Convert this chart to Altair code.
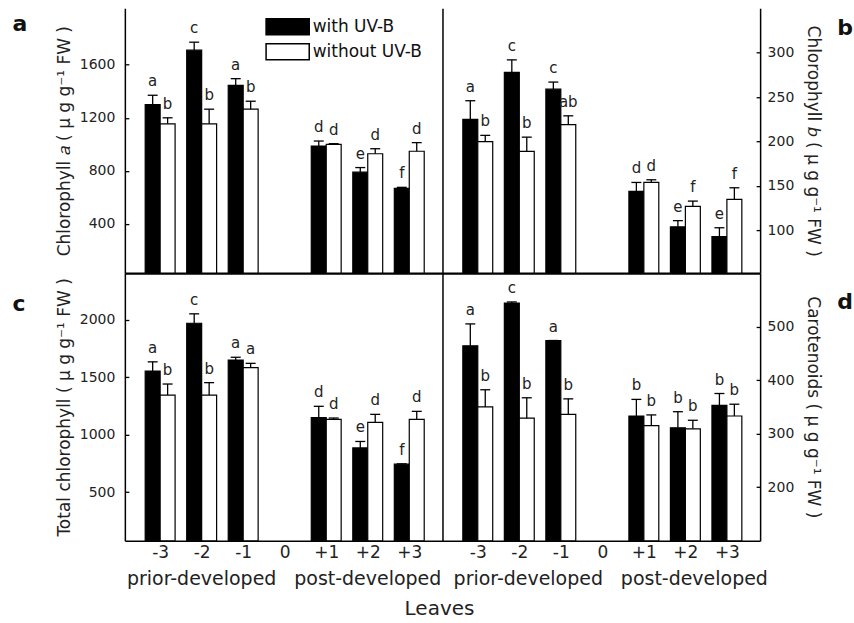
import altair as alt
import pandas as pd

FONT = "DejaVu Sans"

leaves = ["-3", "-2", "-1", "0", "+1", "+2", "+3"]
bar_leaves = ["-3", "-2", "-1", "+1", "+2", "+3"]
treatments = ["with UV-B", "without UV-B"]

# Panel a: Chlorophyll a
chla_with = [1300, 1710, 1445, 987, 790, 668]
chla_with_err = [70, 60, 50, 38, 35, 8]
chla_with_sig = ["a", "c", "a", "d", "e", "f"]
chla_without = [1155, 1155, 1265, 1000, 929, 948]
chla_without_err = [45, 110, 60, 5, 38, 65]
chla_without_sig = ["b", "b", "b", "d", "d", "d"]

# Panel b: Chlorophyll b
chlb_with = [225, 278, 259, 144, 104, 93]
chlb_with_err = [21, 14, 8, 10, 7, 10]
chlb_with_sig = ["a", "c", "c", "d", "e", "e"]
chlb_without = [200, 189, 219, 154, 127, 135]
chlb_without_err = [7, 16, 10, 3, 6, 13]
chlb_without_sig = ["b", "b", "ab", "d", "f", "f"]

# Panel c: Total chlorophyll
tot_with = [1555, 1971, 1651, 1149, 886, 744]
tot_with_err = [80, 82, 24, 99, 56, 3]
tot_with_sig = ["a", "c", "a", "d", "e", "f"]
tot_without = [1346, 1346, 1584, 1134, 1108, 1134]
tot_without_err = [96, 108, 38, 12, 70, 70]
tot_without_sig = ["b", "b", "a", "d", "d", "d"]

# Panel d: Carotenoids
car_with = [464, 544, 474, 333, 311, 353]
car_with_err = [41, 2, 0, 31, 30, 22]
car_with_sig = ["a", "c", "a", "b", "b", "b"]
car_without = [350, 329, 336, 315, 309, 333]
car_without_err = [32, 38, 29, 20, 16, 22]
car_without_sig = ["b", "b", "b", "b", "b", "b"]

group_leaves = ["-2", "+2"]
group_labels = ["prior-developed", "post-developed"]
x_title = ["Leaves"]

PW = 318          # panel width
H_TOP = 265       # top panel height
H_BOT = 268       # bottom panel height
TOTAL_W = 2 * PW
TOTAL_H = H_TOP + H_BOT
BAR = 0.36        # bar width in leaf units
CAP = 0.12        # half cap width in leaf units
X_DOMAIN = [-3.85, 3.8]


def make_df(w, we, ws, wo, woe, wos):
    rows = []
    for i, leaf in enumerate(bar_leaves):
        rows.append(dict(leaf=leaf, pos=int(leaf), trt=treatments[0], side=-1,
                         value=w[i], err=we[i], sig=ws[i]))
        rows.append(dict(leaf=leaf, pos=int(leaf), trt=treatments[1], side=0,
                         value=wo[i], err=woe[i], sig=wos[i]))
    return pd.DataFrame(rows)


fill_scale = alt.Scale(domain=treatments, range=["black", "white"])


def panel(df, domain, ticks, title, col, row, letter, letter_xy, legend=False):
    side = "left" if col == 0 else "right"
    bottom = row == 1
    xr = [0, PW] if col == 0 else [PW, TOTAL_W]
    yr = [H_TOP, 0] if row == 0 else [TOTAL_H, H_TOP]
    xscale = alt.Scale(domain=X_DOMAIN, range=xr, nice=False, zero=False)
    yscale = alt.Scale(domain=domain, range=yr, nice=False, zero=False)

    x_axis = alt.Axis(
        orient="bottom", offset=0 if bottom else -H_BOT,
        title=None, labels=bottom, values=[int(v) for v in leaves],
        labelExpr="datum.value > 0 ? '+' + datum.value : '' + datum.value",
        ticks=False, tickSize=0, grid=False,
        domain=True, domainColor="black", domainWidth=1.5 if bottom else 2.2,
        labelFontSize=17, labelColor="#222", labelPadding=4, labelAngle=0,
        labelFlush=False,
    )
    if side == "left":
        y_axis = alt.Axis(
            orient="left", values=ticks, format="d", title=title, ticks=False, tickSize=0,
            grid=False, domainColor="black", domainWidth=1.5, labelFontSize=14,
            labelColor="#222", labelPadding=10, titleFontSize=17, titleFontWeight="normal",
            titleColor="#222", titlePadding=6,
        )
    else:
        y_axis = alt.Axis(
            orient="right", values=ticks, format="d", title=title, ticks=False, tickSize=0,
            grid=False, domainColor="black", domainWidth=1.5, labelFontSize=14,
            labelColor="#222", labelPadding=7, titleFontSize=17, titleFontWeight="normal",
            titleColor="#222", titlePadding=10, titleAngle=90,
        )

    if legend:
        leg = alt.Legend(
            title=None, orient="none", legendX=150, legendY=5.5, padding=0,
            symbolType="M-1.8,-0.67H1.8V0.67H-1.8Z", symbolSize=576,
            symbolStrokeColor="black", symbolStrokeWidth=1.5, symbolOpacity=1,
            labelFontSize=17, labelColor="#111", labelOffset=12, rowPadding=0,
        )
    else:
        leg = None

    base = alt.Chart(df).transform_calculate(
        top="datum.value + datum.err",
        x0=f"datum.pos + datum.side * {BAR}",
        x1=f"datum.pos + (datum.side + 1) * {BAR}",
        xc=f"datum.pos + (datum.side + 0.5) * {BAR}",
        c0=f"datum.pos + (datum.side + 0.5) * {BAR} - {CAP}",
        c1=f"datum.pos + (datum.side + 0.5) * {BAR} + {CAP}",
    )

    bars = base.mark_bar(stroke="black", strokeWidth=1.2).encode(
        x=alt.X("x0:Q", scale=xscale, axis=None),
        x2="x1:Q",
        y=alt.Y("value:Q", scale=yscale, axis=y_axis),
        y2=alt.datum(domain[0]),
        fill=alt.Fill("trt:N", scale=fill_scale, legend=leg),
    )
    rules = base.mark_rule(color="black", strokeWidth=1.3).encode(
        x=alt.X("xc:Q", scale=xscale, axis=None),
        y=alt.Y("value:Q", scale=yscale, axis=None),
        y2="top:Q",
    )
    caps = base.mark_rule(color="black", strokeWidth=1.3).encode(
        x=alt.X("c0:Q", scale=xscale, axis=None),
        x2="c1:Q",
        y=alt.Y("top:Q", scale=yscale, axis=None),
    )
    sigs = base.mark_text(fontSize=15, color="#222", baseline="alphabetic", dy=-9).encode(
        x=alt.X("xc:Q", scale=xscale, axis=None),
        y=alt.Y("top:Q", scale=yscale, axis=None),
        text="sig:N",
    )
    # invisible layer carrying the x axis
    x_axis_layer = base.mark_point(opacity=0).encode(
        x=alt.X("xc:Q", scale=xscale, axis=x_axis),
        y=alt.Y("value:Q", scale=yscale, axis=None),
    )
    # invisible layer carrying inward y ticks
    tick_axis = base.mark_point(opacity=0).encode(
        x=alt.X("xc:Q", scale=xscale, axis=None),
        y=alt.Y("value:Q", scale=yscale, axis=alt.Axis(
            orient=side, values=ticks, offset=-4, tickSize=4, tickWidth=1.3,
            tickColor="black", domain=False, labels=False, grid=False, title=None)),
    )
    layers = [bars, rules, caps, sigs, x_axis_layer, tick_axis]
    if side == "right":
        divider = base.mark_point(opacity=0).encode(
            x=alt.X("xc:Q", scale=xscale, axis=None),
            y=alt.Y("value:Q", scale=yscale, axis=alt.Axis(
                orient="left", offset=-PW, domain=True, domainColor="black",
                domainWidth=1.5, ticks=False, labels=False, grid=False, title=None)),
        )
        layers.append(divider)
    letter_df = pd.DataFrame({"t": [letter]})
    letter_mark = alt.Chart(letter_df).mark_text(
        fontSize=22, fontWeight="bold", align="center", baseline="middle", color="#111"
    ).encode(text="t:N", x=alt.value(letter_xy[0]), y=alt.value(letter_xy[1]))
    layers.append(letter_mark)
    if bottom:
        gdf = pd.DataFrame({"pos": [int(v) for v in group_leaves], "g": group_labels})
        groups = alt.Chart(gdf).mark_text(
            fontSize=19, baseline="middle", color="#222", dx=0 if col == 0 else 9
        ).encode(
            x=alt.X("pos:Q", scale=xscale, axis=None),
            y=alt.value(TOTAL_H + 38),
            text="g:N",
        )
        layers.append(groups)
    return alt.layer(*layers).resolve_axis(x="independent", y="independent")


df_a = make_df(chla_with, chla_with_err, chla_with_sig, chla_without, chla_without_err, chla_without_sig)
df_b = make_df(chlb_with, chlb_with_err, chlb_with_sig, chlb_without, chlb_without_err, chlb_without_sig)
df_c = make_df(tot_with, tot_with_err, tot_with_sig, tot_without, tot_without_err, tot_without_sig)
df_d = make_df(car_with, car_with_err, car_with_sig, car_without, car_without_err, car_without_sig)

pa = panel(df_a, [30, 2025], [400, 800, 1200, 1600], "Chlorophyll 𝑎 ( μ g g⁻¹ FW )",
           0, 0, "a", (-105, 16), legend=True)
pb = panel(df_b, [52, 350], [100, 150, 200, 250, 300], "Chlorophyll 𝑏 ( μ g g⁻¹ FW )",
           1, 0, "b", (PW + 403, 20))
pc = panel(df_c, [78, 2408], [500, 1000, 1500, 2000], "Total chlorophyll ( μ g g⁻¹ FW )",
           0, 1, "c", (-106, H_TOP + 31))
pd_ = panel(df_d, [100, 600], [200, 300, 400, 500], "Carotenoids ( μ g g⁻¹ FW )",
            1, 1, "d", (PW + 403, H_TOP + 29))

leaves_df = pd.DataFrame({"t": x_title})
leaves_text = alt.Chart(leaves_df).mark_text(fontSize=20, baseline="middle", color="#222").encode(
    text="t:N", x=alt.value(PW - 3), y=alt.value(TOTAL_H + 68))

chart = alt.layer(pa, pb, pc, pd_, leaves_text).resolve_scale(
    x="independent", y="independent"
).resolve_axis(
    x="independent", y="independent"
).properties(
    width=TOTAL_W, height=TOTAL_H,
    padding={"left": 12, "top": 8, "right": 1, "bottom": 4},
).configure(font=FONT).configure_view(stroke=None)

chart.save("out.html", embed_options={"renderer": "svg", "actions": False})
